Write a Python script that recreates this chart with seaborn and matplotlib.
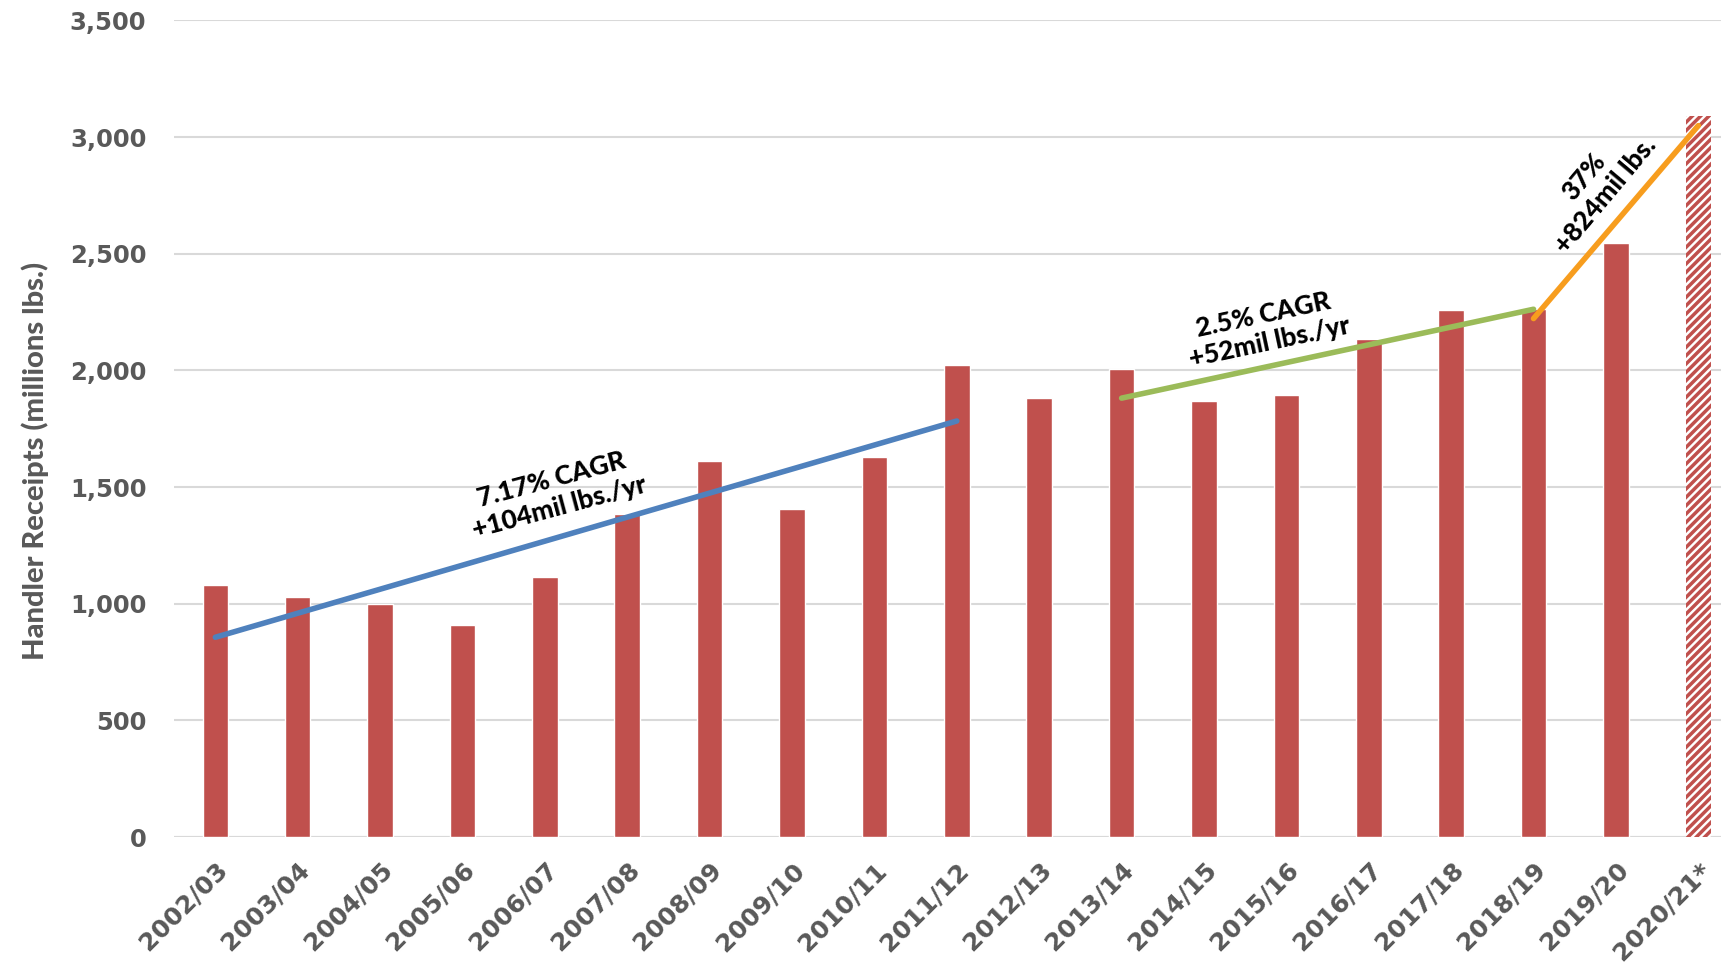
import numpy as np
import pandas as pd
import matplotlib
matplotlib.use("Agg")
import matplotlib.pyplot as plt
import seaborn as sns

seasons = ["2002/03", "2003/04", "2004/05", "2005/06", "2006/07", "2007/08",
           "2008/09", "2009/10", "2010/11", "2011/12", "2012/13", "2013/14",
           "2014/15", "2015/16", "2016/17", "2017/18", "2018/19", "2019/20",
           "2020/21*"]
receipts = [1082, 1030, 997, 908, 1115, 1383, 1613, 1406, 1627, 2023,
            1881, 2008, 1867, 1895, 2135, 2258, 2264, 2544, 3092]

# trend lines (start/end season, start/end value)
blue_seasons = ["2002/03", "2011/12"]
blue_values = [856, 1783]
green_seasons = ["2013/14", "2018/19"]
green_values = [1881, 2262]
orange_seasons = ["2018/19", "2020/21*"]
orange_values = [2222, 3049]

BAR_RED = "#C0504D"
GRAY = "#595959"

sns.set_theme(style="white")
plt.rcParams["hatch.linewidth"] = 2.5

df = pd.DataFrame({"season": seasons, "receipts": receipts})

fig = plt.figure(figsize=(17.24, 9.71), dpi=100)
ax = fig.add_axes([0.101, 0.138, 0.897, 0.841])

sns.barplot(data=df, x="season", y="receipts", color=BAR_RED, saturation=1,
            width=0.31, ax=ax, zorder=3)

# last season is a forecast: hatched bar
last = ax.patches[-1]
last.set_facecolor("white")
last.set_edgecolor(BAR_RED)
last.set_hatch("////")
last.set_linewidth(0)

pos = {s: i for i, s in enumerate(seasons)}


def trend(names, vals, color):
    ax.plot([pos[n] for n in names], vals, color=color, lw=4,
            solid_capstyle="round", zorder=4)


trend(blue_seasons, blue_values, "#4F81BD")
trend(green_seasons, green_values, "#9BBB59")
trend(orange_seasons, orange_values, "#F79D1E")

note_kw = dict(ha="center", va="center", rotation_mode="anchor",
               fontsize=19, fontweight="black", color="black",
               family=["Lato", "DejaVu Sans"], linespacing=1.2, zorder=5)
ax.text(4.13, 1472, "7.17% CAGR\n+104mil lbs./yr", rotation=15, **note_kw)
ax.text(12.76, 2178, "2.5% CAGR\n+52mil lbs./yr", rotation=12, **note_kw)
ax.text(16.74, 2790, "37%\n+824mil lbs.", rotation=50, **note_kw)

ax.set_ylim(0, 3500)
ax.set_xlim(-0.5, 18.27)
ax.set_yticks(np.arange(0, 3501, 500))
ax.yaxis.set_major_formatter(matplotlib.ticker.FuncFormatter(lambda v, p: f"{int(v):,}"))
ax.grid(axis="y", color="#D9D9D9", lw=1.5, zorder=0)
ax.grid(axis="x", visible=False)
for side in ["left", "right", "top", "bottom"]:
    ax.spines[side].set_visible(False)
ax.axhline(0, color="#D9D9D9", lw=1.5, zorder=2)

ax.tick_params(axis="y", length=0, labelsize=17.5, labelcolor=GRAY, pad=20)
ax.tick_params(axis="x", length=0, labelsize=18, labelcolor=GRAY, pad=15)
for lab in ax.get_yticklabels():
    lab.set_fontweight("bold")
for lab in ax.get_xticklabels():
    lab.set_fontweight("bold")
    lab.set_rotation(45)
    lab.set_ha("right")
    lab.set_rotation_mode("anchor")

ax.set_xlabel("")
ax.set_ylabel("Handler Receipts (millions lbs.)", fontsize=21, fontweight="black",
              color=GRAY, family=["Lato", "DejaVu Sans"])
ax.yaxis.set_label_coords(-0.081, 0.46)

fig.savefig("out.png", dpi=100)
